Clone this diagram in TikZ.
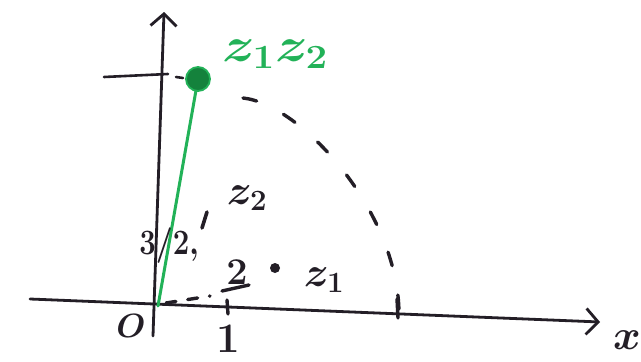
\RequirePackage{fix-cm}
\documentclass[tikz,border=0pt]{standalone}
\usepackage{graphicx}
\usetikzlibrary{arrows.meta}
\definecolor{pen}{RGB}{35,30,38}
\definecolor{gpen}{RGB}{34,178,88}
\definecolor{gdot}{RGB}{20,130,60}
\tikzset{
  axis/.style={draw=pen, line width=2.8pt, line cap=round},
  stroke/.style={draw=pen, line width=3.4pt, line cap=round},
  lab/.style={text=pen, inner sep=0pt, font=\fontsize{42}{44}\selectfont\boldmath},
  glab/.style={text=gpen, inner sep=0pt, font=\fontsize{44}{46}\selectfont\boldmath},
  hand/.style={-{Straight Barb[length=12pt,width=26pt,line width=2.8pt]}}
}
\begin{document}
\begin{tikzpicture}[x=1pt,y=-1pt]
\useasboundingbox[fill=white] (0,0) rectangle (641,362);
% key points
\coordinate (O) at (158,306);
\coordinate (xl) at (30,299);
\coordinate (xr) at (600,322);
\coordinate (yb) at (153,336);
\coordinate (yt) at (164,12);
\coordinate (P) at (198,79);
\coordinate (arcS) at (243,98);
\coordinate (arcE) at (399,313);
% axes
\draw[axis, hand] (xl) -- (xr);
\draw[axis, hand] (yb) -- (yt);
% tick on y axis at top level
\coordinate (ytl) at (104,77);
\coordinate (ytr) at (168,74);
\draw[stroke, line width=2.6pt] (ytl) -- (ytr);
\coordinate (yd1) at (176,77);
\coordinate (yd2) at (183,78);
\draw[stroke, line width=2.6pt] (yd1) -- (yd2);
% dashed arc
\draw[stroke, dash pattern=on 14pt off 30pt] (arcS) .. controls (300,104) and (398,210) .. (arcE);
% tick on x axis at arc end
\coordinate (t2a) at (397,299);
\coordinate (t2b) at (398,318);
\draw[stroke] (t2a) -- (t2b);
% tick at 1
\coordinate (t1a) at (227,300);
\coordinate (t1b) at (228,314);
\draw[stroke] (t1a) -- (t1b);
% dashed segment from origin to 1
\coordinate (d1) at (166,303);
\coordinate (d2) at (210,296);
\draw[stroke, dash pattern=on 10pt off 12pt] (d1) -- (d2);
% green vector z1z2
\draw[draw=gpen, line width=3pt, line cap=round] (O) -- (P);
\node[circle, fill=gdot, draw=gpen, line width=1.8pt, minimum size=24pt, inner sep=0pt] (Pdot) at (P) {};
\node[glab] (lz1z2) at (275,54) {\scalebox{1.25}[1.1]{$z_1z_2$}};
% z2 point
\coordinate (z2a) at (207,212);
\coordinate (z2b) at (202,228);
\draw[stroke, line width=3.6pt] (z2a) -- (z2b);
\node[lab] (lz2) at (247,198) {$z_2$};
% z1 point
\node[circle, fill=pen, minimum size=10pt, inner sep=0pt] (z1) at (275,268) {};
\node[lab] (lz1) at (324,280) {$z_1$};
% labels
\node[lab] (l32) at (169,246) {\scalebox{0.7}[0.85]{$3/2,$}};
\node[lab] (l2) at (237,272) {\scalebox{0.9}[0.9]{$2$}};
\coordinate (u1) at (222,291);
\coordinate (u2) at (249,285);
\draw[stroke] (u1) -- (u2);
\node[lab] (l1) at (228,339) {$1$};
\node[lab] (lx) at (627,340) {$x$};
\node[lab] (lO) at (131,326) {\scalebox{0.8}{$O$}};
\end{tikzpicture}
\end{document}
